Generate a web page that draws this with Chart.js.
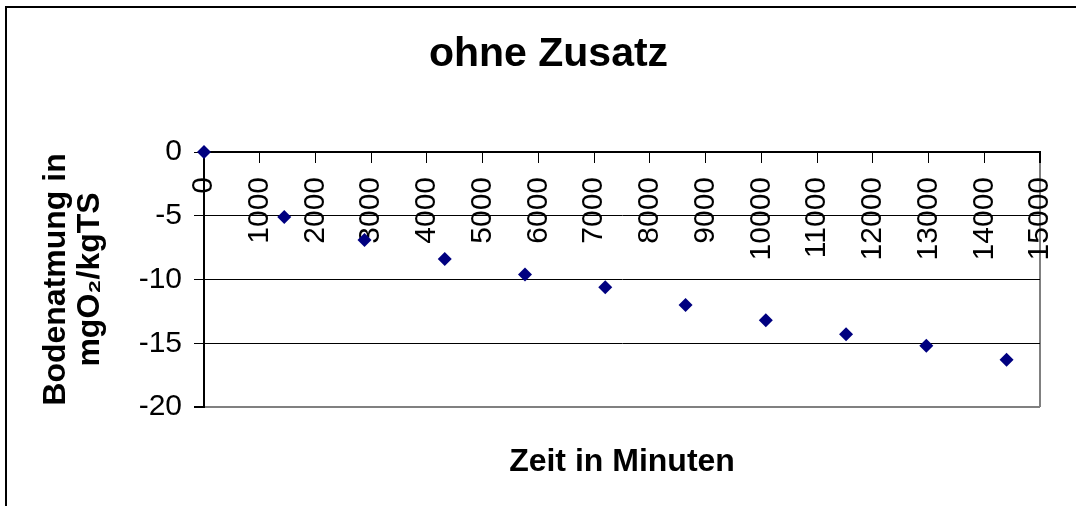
<!DOCTYPE html>
<html>
<head>
<meta charset="utf-8" />
<title>ohne Zusatz</title>
<script src="https://cdn.jsdelivr.net/npm/chart.js@4.4.1/dist/chart.umd.min.js"></script>
<style>
  html, body { margin: 0; padding: 0; background: #fff; overflow: hidden; }
  #frame {
    position: absolute;
    left: 5px;
    top: 6px;
    width: 1200px;
    height: 700px;
    border: 2px solid #000;
  }
  #wrap { position: absolute; left: 0; top: 0; width: 1076px; height: 506px; }
</style>
</head>
<body>
<div id="frame"></div>
<div id="wrap"><canvas id="myChart" width="1076" height="506"></canvas></div>
<script>
// data
const minutes = [0, 1440, 2880, 4320, 5760, 7200, 8640, 10080, 11520, 12960, 14400];
const respiration = [0, -5.1, -6.9, -8.4, -9.6, -10.6, -12.0, -13.2, -14.3, -15.2, -16.3];
const xTicks = [0, 15000, 1000]; // min, max, step
const yTicks = [-20, 0, 5];

const COLOR = {
  marker: "#000080",
  axis: "#000000",
  border: "#808080",
};
const FONT = "'Liberation Sans', Arial, sans-serif";

const chartRef = document.getElementById("myChart").getContext("2d");
const myChart = new Chart(chartRef, {
  type: "scatter",
  data: {
    datasets: [
      {
        label: "ohne Zusatz",
        data: minutes.map((m, i) => ({ x: m, y: respiration[i] })),
        pointStyle: "rectRot",
        pointRadius: 7,
        pointHoverRadius: 7,
        borderWidth: 0,
        backgroundColor: COLOR.marker,
        borderColor: COLOR.marker,
        clip: false,
      },
    ],
  },
  options: {
    responsive: false,
    animation: false,
    layout: { padding: { left: 21, right: 0, top: 0, bottom: 0 } },
    plugins: {
      legend: { display: false },
      tooltip: { enabled: false },
      title: {
        display: true,
        text: "ohne Zusatz",
        color: "#000",
        font: { family: FONT, size: 41, weight: "bold", lineHeight: 1.2 },
        padding: { top: 30, bottom: 72.8 },
      },
    },
    scales: {
      x: {
        type: "linear",
        position: { y: 0 },
        min: xTicks[0],
        max: xTicks[1],
        // labels sit inside the plot, so no extra side margin
        afterFit: scale => {
          scale.paddingLeft = 0;
          scale.paddingRight = 0;
        },
        grid: {
          display: true,
          drawOnChartArea: true,
          drawTicks: true,
          tickLength: 10,
          tickColor: COLOR.axis,
          // only the right edge of the plot gets a line
          color: ctx => (ctx.tick && ctx.tick.value === xTicks[1] ? COLOR.border : "rgba(0,0,0,0)"),
          lineWidth: ctx => (ctx.tick && ctx.tick.value === xTicks[1] ? 2 : 1),
        },
        border: { display: true, color: COLOR.axis, width: 2 },
        ticks: {
          stepSize: xTicks[2],
          minRotation: 90,
          maxRotation: 90,
          autoSkip: false,
          padding: 15,
          color: "#000",
          font: { family: FONT, size: 30 },
          callback: v => String(v),
        },
      },
      xTitle: {
        type: "linear",
        position: "bottom",
        min: xTicks[0],
        max: xTicks[1],
        grid: { display: false, drawTicks: false },
        border: { display: false },
        ticks: { display: false },
        title: {
          display: true,
          text: "Zeit in Minuten",
          color: "#000",
          font: { family: FONT, size: 32, weight: "bold", lineHeight: 1.2 },
          padding: { top: 36, bottom: 24.6 },
        },
      },
      y: {
        type: "linear",
        position: "left",
        min: yTicks[0],
        max: yTicks[1],
        afterFit: scale => {
          scale.width = 183;
        },
        grid: {
          drawTicks: true,
          tickLength: 10,
          tickColor: COLOR.axis,
          color: ctx => (ctx.tick && ctx.tick.value === yTicks[0] ? COLOR.border : COLOR.axis),
          lineWidth: ctx => (ctx.tick && ctx.tick.value === yTicks[0] ? 2 : 1),
        },
        border: { display: true, color: COLOR.axis, width: 2 },
        ticks: {
          stepSize: yTicks[2],
          padding: 12,
          color: "#000",
          font: { family: FONT, size: 30 },
          callback: v => String(v),
        },
        title: {
          display: true,
          text: ["Bodenatmung in", "mgO\u2082/kgTS"],
          color: "#000",
          font: { family: FONT, size: 32, weight: "bold", lineHeight: 1.06 },
          padding: { top: 18, bottom: 0 },
        },
      },
      // empty axis, keeps room right of the plot
      yRight: {
        type: "linear",
        position: "right",
        afterFit: scale => {
          scale.width = 36;
        },
        grid: { display: false, drawTicks: false },
        border: { display: false },
        ticks: { display: false },
      },
    },
  },
});
</script>
</body>
</html>
